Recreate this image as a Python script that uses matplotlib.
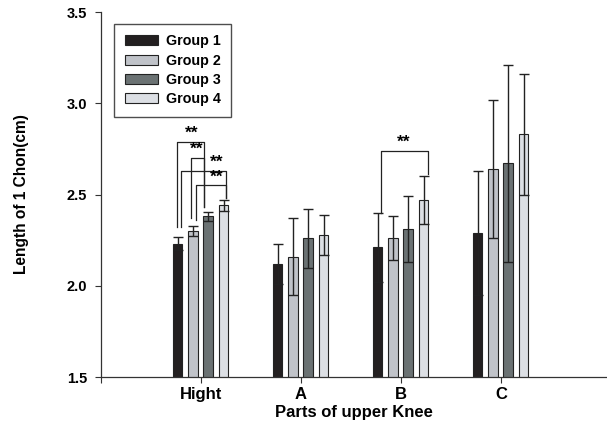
import numpy as np
import matplotlib.pyplot as plt

plt.rcParams["font.family"] = ["Liberation Sans", "DejaVu Sans"]
plt.rcParams["font.weight"] = "bold"

parts = ["Hight", "A", "B", "C"]
groups = ["Group 1", "Group 2", "Group 3", "Group 4"]
colors = ["#231f20", "#c0c3c9", "#6b7273", "#dcdfe4"]

# mean length per part, one list per group
group1 = [2.23, 2.12, 2.21, 2.29]
group2 = [2.30, 2.16, 2.26, 2.64]
group3 = [2.38, 2.26, 2.31, 2.67]
group4 = [2.44, 2.28, 2.47, 2.83]
means = [group1, group2, group3, group4]

# error (SD) per part, one list per group
err1 = [0.035, 0.11, 0.19, 0.34]
err2 = [0.030, 0.21, 0.12, 0.38]
err3 = [0.025, 0.16, 0.18, 0.54]
err4 = [0.028, 0.11, 0.13, 0.33]
errors = [err1, err2, err3, err4]

offsets = [-0.235, -0.08, 0.07, 0.225]
width = 0.095

fig = plt.figure(figsize=(6.07, 4.29), dpi=100)
ax = fig.add_axes([0.1664, 0.1212, 0.8336, 0.8508])

x = np.arange(1, len(parts) + 1)
for i in range(4):
    ax.bar(x + offsets[i], means[i], width, bottom=0, color=colors[i],
           edgecolor="#222222", linewidth=0.8, label=groups[i], zorder=2)
    ax.errorbar(x + offsets[i], means[i], yerr=errors[i], fmt="none",
                ecolor="#222222", elinewidth=1, capsize=3.5, capthick=1, zorder=3)

# significance brackets: (x left leg, y left bottom, x right leg, y right bottom, y top)
brackets = [
    (1 - 0.245, 2.32, 1 + 0.03, 2.43, 2.79),
    (1 - 0.10, 2.37, 1 + 0.03, 2.43, 2.70),
    (1 - 0.205, 2.32, 1 + 0.25, 2.48, 2.63),
    (1 - 0.05, 2.36, 1 + 0.25, 2.48, 2.55),
    (3 - 0.20, 2.40, 3 + 0.27, 2.61, 2.74),
]
star_x = [1 - 0.09, 1 - 0.04, 1 + 0.16, 1 + 0.16, 3 + 0.03]
for (xl, yl, xr, yr, yt), sx in zip(brackets, star_x):
    ax.plot([xl, xl, xr, xr], [yl, yt, yt, yr], color="#222222", lw=0.9, zorder=4)
    ax.text(sx, yt + 0.006, "**", ha="center", va="bottom", fontsize=12.5,
            fontweight="bold", zorder=5)

ax.set_xlim(0, 5.06)
ax.set_ylim(1.5, 3.5)
ax.set_xticks([0, 1, 2, 3, 4])
ax.set_xticklabels([""] + parts, fontsize=12, fontweight="bold")
ax.set_yticks([1.5, 2.0, 2.5, 3.0, 3.5])
ax.set_yticklabels(["1.5", "2.0", "2.5", "3.0", "3.5"], fontsize=10.5, fontweight="bold")
ax.tick_params(direction="out", length=4, width=0.8, color="#333333")
ax.tick_params(axis="y", pad=6)
ax.tick_params(axis="x", pad=3)

for side in ["top", "right"]:
    ax.spines[side].set_visible(False)
for side in ["left", "bottom"]:
    ax.spines[side].set_color("#333333")
    ax.spines[side].set_linewidth(0.9)

ax.set_xlabel("Parts of upper Knee", fontsize=12, fontweight="bold", labelpad=2)
ax.set_ylabel("Length of 1 Chon(cm)", fontsize=11.2, fontweight="bold", labelpad=27)

leg = ax.legend(loc="upper left", bbox_to_anchor=(0.026, 0.968), fontsize=10.3,
                frameon=True, fancybox=False, handlelength=2.3, handleheight=0.7,
                handletextpad=0.55, labelspacing=0.36, borderpad=0.75,
                borderaxespad=0)
leg.get_frame().set_edgecolor("#222222")
leg.get_frame().set_linewidth(1.0)
for t in leg.get_texts():
    t.set_fontweight("bold")

fig.savefig("out.png", dpi=100)
